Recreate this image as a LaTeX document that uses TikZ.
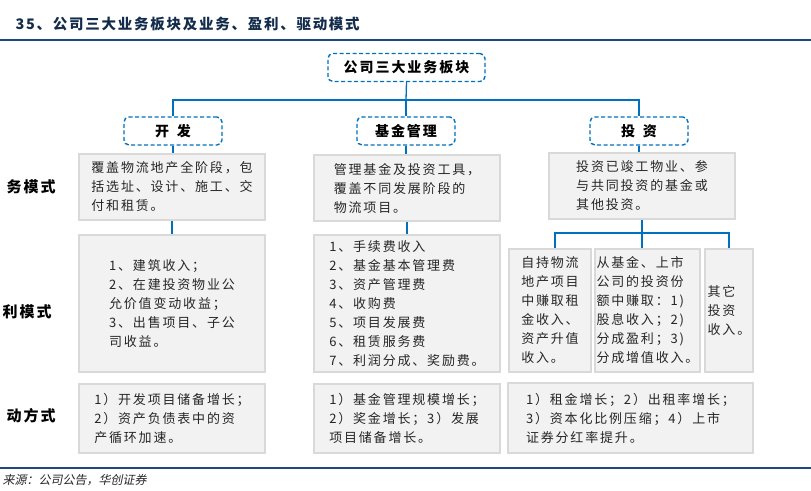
\documentclass[tikz,border=0pt]{standalone}
\usepackage{fontspec}
\setmainfont{Noto Sans CJK SC}
\newfontfamily\boxfont[LetterSpace=14]{Noto Sans CJK SC}
\newfontfamily\headfont[LetterSpace=12]{Noto Sans CJK SC}
\newfontfamily\srcfont[FakeSlant=0.2]{Noto Sans CJK SC}
\usepackage{xcolor}
\usetikzlibrary{positioning,calc}
\definecolor{linkblue}{RGB}{0,112,192}
\definecolor{rulecol}{RGB}{31,73,125}
\definecolor{boxgray}{RGB}{242,242,242}
\definecolor{boxline}{RGB}{217,217,217}
\definecolor{txt}{RGB}{38,38,38}

\begin{document}
\begin{tikzpicture}[x=1pt, y=-1pt,
  seg/.style={draw=linkblue, dashed, dash pattern=on 4pt off 2.5pt, line width=1.4pt, rounded corners=5pt,
    minimum height=28pt, inner sep=0pt, font=\boxfont\bfseries\fontsize{14}{16}\selectfont, text=black},
  info/.style={draw=boxline, fill=boxgray, line width=1.2pt, inner sep=0pt, align=left,
    font=\boxfont\fontsize{13}{19}\selectfont, text=txt},
  conn/.style={draw=linkblue, line width=1.3pt},
  rowlab/.style={anchor=west, font=\boxfont\bfseries\fontsize{15}{17}\selectfont},
  rule/.style={draw=rulecol, line width=1.8pt}
]
\useasboundingbox (0,0) rectangle (811,490);

% title and rules
\node[anchor=west, font=\headfont\bfseries\fontsize{14.5}{16}\selectfont, text=rulecol!60!black] (title) at (12,24) {35、公司三大业务板块及业务、盈利、驱动模式};
\draw[rule] (0,40) -- (811,40);
\draw[rule] (0,468) -- (811,468);
\node[anchor=west, font=\srcfont\fontsize{12}{14}\selectfont, text=txt] (src) at (-1,480) {来源：公司公告，华创证券};

% row labels
\node[rowlab] (lab1) at (3,187) {务模式};
\node[rowlab] (lab2) at (-1,312) {利模式};
\node[rowlab] (lab3) at (3,416) {动方式};

% segments
\node[seg, minimum width=157pt] (top) at (406.5,67.5) {公司三大业务板块};
\node[seg, minimum width=98pt] (kf) at (173,131) {开\hspace{.55em}发};
\node[seg, minimum width=98pt] (jj) at (406,131) {基金管理};
\node[seg, minimum width=98pt] (tz) at (639,131) {投\hspace{.55em}资};
\coordinate (bus) at (406,100);
\draw[conn] (top.south) -- (bus);
\draw[conn] (kf.north) |- (bus) -| (tz.north);
\draw[conn] (bus) -- (jj.north);

% business model
\node[info, minimum width=186pt, minimum height=66pt] (ywL) at (172,187) {覆盖物流地产全阶段，包\\括选址、设计、施工、交\\付和租赁。};
\node[info, minimum width=186pt, minimum height=66pt] (ywM) at (407,188) {管理基金及投资工具，\\覆盖不同发展阶段的\\物流项目。};
\node[info, minimum width=186pt, minimum height=66pt] (ywR) at (642,186) {投资已竣工物业、参\\与共同投资的基金或\\其他投资。};
\draw[conn] (kf.south) -- (kf.south |- ywL.north);
\draw[conn] (jj.south) -- (jj.south |- ywM.north);
\draw[conn] (tz.south) -- (tz.south |- ywR.north);

% profit model
\node[info, minimum width=186pt, minimum height=137pt] (ylL) at (172,303.5) {1、建筑收入；\\2、在建投资物业公\\允价值变动收益；\\3、出售项目、子公\\司收益。};
\node[info, minimum width=186pt, minimum height=137pt] (ylM) at (407,303.5) {1、手续费收入\\2、基金基本管理费\\3、资产管理费\\4、收购费\\5、项目发展费\\6、租赁服务费\\7、利润分成、奖励费。};
\node[info, minimum width=82pt, minimum height=123pt] (zc) at (550,310.5) {自持物流\\地产项目\\中赚取租\\金收入、\\资产升值\\收入。};
\node[info, minimum width=105pt, minimum height=123pt] (fb) at (647.5,310.5) {从基金、上市\\公司的投资份\\额中赚取：1)\\股息收入；2)\\分成盈利；3)\\分成增值收入。};
\node[info, minimum width=48pt, minimum height=123pt] (qt) at (729,310.5) {其它\\投资\\收入。};
\draw[conn] (ywL.south) -- (ylL.north);
\draw[conn] (ywM.south) -- (ylM.north);
\coordinate (bus2) at (642,233);
\draw[conn] (ywR.south) -- (ywR.south |- fb.north);
\draw[conn] ([xshift=5pt]zc.north) |- (bus2) -| (qt.north);

% driving model
\node[info, minimum width=186pt, minimum height=69pt] (qdL) at (172,418.5) {1）开发项目储备增长；\\2）资产负债表中的资\\产循环加速。};
\node[info, minimum width=186pt, minimum height=69pt] (qdM) at (407,418.5) {1）基金管理规模增长；\\2）奖金增长；3）发展\\项目储备增长。};
\node[info, minimum width=245pt, minimum height=70pt] (qdR) at (630.5,418) {1）租金增长；2）出租率增长；\\3）资本化比例压缩；4）上市\\证券分红率提升。};
\end{tikzpicture}
\end{document}
